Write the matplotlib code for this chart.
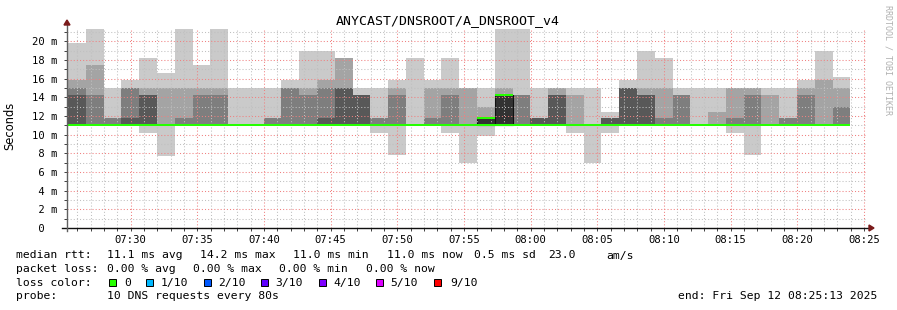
import matplotlib
matplotlib.use("Agg")
import matplotlib.pyplot as plt
import matplotlib.dates as mdates
from matplotlib.patches import Rectangle, Polygon
from datetime import datetime, timedelta
import numpy as np

# ---------------- data ----------------
title = "ANYCAST/DNSROOT/A_DNSROOT_v4"
axis_start = datetime(2025, 9, 12, 7, 25, 13)
axis_end = datetime(2025, 9, 12, 8, 25, 13)
first_step = datetime(2025, 9, 12, 7, 25, 18)
step_seconds = 80

# sorted ping round-trip times per 80 s step (ms), ping01 = fastest
ping01 = [11.0, 11.0, 11.0, 11.0, 10.2, 7.7, 11.0, 11.0, 11.0, 11.0,
          11.0, 11.0, 11.0, 11.0, 11.0, 11.0, 11.0, 10.2, 7.8, 11.0,
          11.0, 10.2, 7.0, 9.8, 11.0, 11.0, 11.0, 11.0, 10.2, 7.0,
          10.2, 11.0, 11.0, 11.0, 11.0, 11.0, 11.0, 10.2, 7.8, 11.0,
          11.0, 11.0, 11.0, 11.0]
ping02 = [11.0, 11.0, 11.0, 11.0, 11.0, 11.0, 11.0, 11.0, 11.0, 11.0,
          11.0, 11.0, 11.0, 11.0, 11.0, 11.0, 11.0, 11.0, 11.0, 11.0,
          11.0, 11.0, 11.0, 11.0, 11.0, 11.0, 11.0, 11.0, 11.0, 11.0,
          11.0, 11.0, 11.0, 11.0, 11.0, 11.0, 11.0, 11.0, 11.0, 11.0,
          11.0, 11.0, 11.0, 11.0]
ping03 = [11.0, 11.0, 11.0, 11.0, 11.0, 11.0, 11.0, 11.0, 11.0, 11.0,
          11.0, 11.0, 11.0, 11.0, 11.0, 11.0, 11.0, 11.0, 11.0, 11.0,
          11.0, 11.0, 11.0, 11.0, 11.0, 11.0, 11.0, 11.0, 11.0, 11.0,
          11.0, 11.0, 11.0, 11.0, 11.0, 11.0, 11.0, 11.0, 11.0, 11.0,
          11.0, 11.0, 11.0, 11.0]
ping04 = [11.0, 11.0, 11.0, 11.0, 11.0, 11.0, 11.0, 11.0, 11.0, 11.0,
          11.0, 11.0, 11.0, 11.0, 11.0, 11.0, 11.0, 11.0, 11.0, 11.0,
          11.0, 11.0, 11.0, 11.0, 11.0, 11.0, 11.0, 11.0, 11.0, 11.0,
          11.0, 11.0, 11.0, 11.0, 11.0, 11.0, 11.0, 11.0, 11.0, 11.0,
          11.0, 11.0, 11.0, 11.0]
ping05 = [11.0, 11.0, 11.0, 11.0, 11.0, 11.0, 11.0, 11.0, 11.0, 11.0,
          11.0, 11.0, 11.0, 11.0, 11.0, 11.0, 11.0, 11.0, 11.0, 11.0,
          11.0, 11.0, 11.0, 11.0, 11.0, 11.0, 11.0, 11.0, 11.0, 11.0,
          11.0, 11.0, 11.0, 11.0, 11.0, 11.0, 11.0, 11.0, 11.0, 11.0,
          11.0, 11.0, 11.0, 11.0]
ping06 = [11.0, 11.0, 11.0, 11.0, 11.0, 11.0, 11.0, 11.0, 11.0, 11.0,
          11.0, 11.0, 11.0, 11.0, 11.0, 11.0, 11.0, 11.0, 11.0, 11.0,
          11.0, 11.0, 11.0, 11.75, 14.25, 11.0, 11.0, 11.0, 11.0, 11.0,
          11.0, 11.0, 11.0, 11.0, 11.0, 11.0, 11.0, 11.0, 11.0, 11.0,
          11.0, 11.0, 11.0, 11.0]
ping07 = [14.25, 11.0, 11.0, 11.75, 14.25, 11.0, 11.0, 11.0, 11.0, 11.0,
          11.0, 11.0, 11.0, 11.0, 11.75, 15.0, 14.25, 11.0, 11.0, 11.0,
          11.0, 11.0, 11.0, 11.75, 14.25, 11.0, 11.75, 14.25, 11.0, 11.0,
          11.75, 15.0, 14.25, 11.0, 11.0, 11.0, 11.0, 11.0, 11.0, 11.0,
          11.0, 11.0, 11.0, 11.0]
ping08 = [15.0, 14.25, 11.75, 15.0, 14.25, 11.0, 11.75, 14.25, 14.25, 11.0,
          11.0, 11.75, 15.0, 14.25, 15.0, 15.0, 14.25, 11.75, 14.25, 11.0,
          11.75, 14.25, 11.0, 11.75, 14.25, 14.25, 11.75, 14.25, 11.0, 11.0,
          11.75, 15.0, 14.25, 11.75, 14.25, 11.0, 11.0, 11.75, 14.25, 11.0,
          11.75, 14.25, 11.0, 13.0]
ping09 = [15.8, 17.5, 11.75, 15.0, 15.0, 15.0, 15.0, 15.0, 15.0, 11.0,
          11.0, 11.75, 15.0, 15.0, 15.8, 18.25, 14.25, 11.75, 15.0, 11.0,
          15.0, 15.0, 15.0, 12.95, 15.0, 14.25, 11.75, 15.0, 14.25, 11.0,
          11.75, 15.0, 15.0, 15.0, 14.25, 11.0, 12.4, 15.0, 15.0, 14.25,
          11.75, 15.0, 15.8, 15.0]
ping10 = [19.85, 21.35, 15.0, 15.8, 18.25, 16.55, 21.35, 17.4, 21.35, 15.0,
          15.0, 15.0, 15.8, 19.0, 19.0, 18.25, 15.0, 15.0, 15.8, 18.25,
          15.8, 18.25, 15.0, 15.0, 21.35, 21.35, 15.0, 15.0, 15.0, 15.0,
          12.4, 15.8, 19.0, 18.25, 15.0, 15.0, 15.0, 15.0, 15.0, 15.0,
          15.0, 15.8, 19.0, 16.2]
median_ms = [11.0, 11.0, 11.0, 11.0, 11.0, 11.0, 11.0, 11.0, 11.0, 11.0,
             11.0, 11.0, 11.0, 11.0, 11.0, 11.0, 11.0, 11.0, 11.0, 11.0,
             11.0, 11.0, 11.0, 11.75, 14.25, 11.0, 11.0, 11.0, 11.0, 11.0,
             11.0, 11.0, 11.0, 11.0, 11.0, 11.0, 11.0, 11.0, 11.0, 11.0,
             11.0, 11.0, 11.0, 11.0]

ytick_values = [0, 2, 4, 6, 8, 10, 12, 14, 16, 18, 20]
ytick_labels = [" 0  ", " 2 m", " 4 m", " 6 m", " 8 m", "10 m", "12 m",
                "14 m", "16 m", "18 m", "20 m"]

loss_labels = ["0", "1/10", "2/10", "3/10", "4/10", "5/10", "9/10"]
loss_colors = ["#26ff00", "#00b8ff", "#0059ff", "#5e00ff", "#7e00ff",
               "#dd00ff", "#ff0000"]
smoke_colors = ["#cacaca", "#a4a4a4", "#7e7e7e", "#585858", "#323232"]

legend_rtt = ["median rtt:", "11.1 ms avg", "14.2 ms max", "11.0 ms min",
              "11.0 ms now", "0.5 ms sd", "23.0", "am/s"]
legend_loss = ["packet loss:", "0.00 % avg", "0.00 % max", "0.00 % min",
               "0.00 % now"]
probe_text = "10 DNS requests every 80s"
end_text = "end: Fri Sep 12 08:25:13 2025"
watermark = "RRDTOOL / TOBI OETIKER"

# ---------------- figure ----------------
W, H = 897, 310
fig = plt.figure(figsize=(W / 100, H / 100), dpi=100)
fig.patch.set_facecolor("white")
PL, PR, PB, PT = 67, 867, 228, 28
ax = fig.add_axes([PL / W, 1 - PB / H, (PR - PL) / W, (PB - PT) / H])
ax.set_facecolor("white")
ymax = 21.41
ax.set_ylim(0, ymax)
ax.set_xlim(mdates.date2num(axis_start), mdates.date2num(axis_end))

n = len(ping10)
edges = [mdates.date2num(first_step + timedelta(seconds=step_seconds * i))
         for i in range(n + 1)]
pings = [ping01, ping02, ping03, ping04, ping05,
         ping06, ping07, ping08, ping09, ping10]


def ext(a):
    return list(a) + [a[-1]]


for i in range(4):
    lo = pings[i]
    hi = pings[9 - i]
    ax.fill_between(edges, ext(lo), ext(hi), step="post",
                    facecolor=smoke_colors[i], edgecolor="none",
                    linewidth=0, zorder=1 + i * 0.01)
# innermost band (ping05..ping06) with dark outline where present
for k in range(n):
    h = ping06[k] - ping05[k]
    if h > 0:
        ax.bar(edges[k], h, bottom=ping05[k], width=edges[k + 1] - edges[k],
               align="edge", color=smoke_colors[4], edgecolor="#101010",
               linewidth=0.8, zorder=1.1)

# median bands (green = 0 loss)
sw = ymax / (PB - PT) * 1.1
med = np.array(median_ms)
ax.fill_between(edges, ext(med - sw), ext(med + sw), step="post",
                facecolor=loss_colors[0], edgecolor="none", zorder=3)
base = np.array(ping05)
ax.fill_between(edges, ext(base - sw), ext(base + sw), step="post",
                facecolor=loss_colors[0], edgecolor="none", zorder=3)

# grid
ax.set_yticks(ytick_values)
ax.set_yticklabels(ytick_labels)
ax.set_yticks(np.arange(1, 22, 2), minor=True)
ax.xaxis.set_major_locator(mdates.MinuteLocator(byminute=range(0, 60, 5)))
ax.xaxis.set_minor_locator(mdates.MinuteLocator())
ax.xaxis.set_major_formatter(mdates.DateFormatter("%H:%M"))
ax.set_axisbelow(False)
ax.grid(which="minor", color="#c0c0c0", linestyle=(0, (1, 2)), linewidth=0.75, zorder=2.5)
ax.grid(which="major", color="#f08080", linestyle=(0, (1, 2)), linewidth=0.75, zorder=2.5)

mono = "DejaVu Sans Mono"
ax.tick_params(axis="both", which="both", length=2, width=0.7, color="#404040",
               direction="out")
ax.tick_params(axis="y", which="major", pad=5, labelsize=7.6)
ax.tick_params(axis="x", which="major", pad=3, labelsize=7.6)
for lab in ax.get_xticklabels() + ax.get_yticklabels():
    lab.set_family(mono)

for s in ax.spines.values():
    s.set_visible(False)

# axes lines + arrows (figure pixel coords)
def fx(px):
    return px / W


def fy(py):
    return 1 - py / H


fig.add_artist(plt.Line2D([fx(62), fx(870)], [fy(228), fy(228)], color="#101010",
                          linewidth=1.0, zorder=5))
fig.add_artist(plt.Line2D([fx(67), fx(67)], [fy(231), fy(24)], color="#606060",
                          linewidth=1.0, zorder=5))
fig.add_artist(Polygon([[fx(869), fy(225)], [fx(874), fy(228)], [fx(869), fy(231)]],
                       closed=True, color="#7a1a1a", zorder=6))
fig.add_artist(Polygon([[fx(64), fy(25)], [fx(67), fy(20)], [fx(70), fy(25)]],
                       closed=True, color="#7a1a1a", zorder=6))

# texts
fig.text(fx(447.5), fy(24), title, family=mono, fontsize=9.5, ha="center",
         va="baseline", color="#000000")
fig.text(fx(10), fy(126), "Seconds", family="DejaVu Sans", fontsize=8.3,
         rotation=90, ha="center", va="center")
fig.text(fx(888), fy(5), watermark, family=mono, fontsize=6, rotation=270,
         ha="center", va="top", color="#b0b0b0")

fs = 8.2
rtt_x = [16, 107.3, 200, 293.3, 386.7, 474, 547.7, 606.7]
for s, x in zip(legend_rtt, rtt_x):
    fig.text(fx(x), fy(258.5), s, family=mono, fontsize=fs, va="baseline")
loss_x = [16, 107.3, 193.3, 279.3, 365.7]
for s, x in zip(legend_loss, loss_x):
    fig.text(fx(x), fy(272), s, family=mono, fontsize=fs, va="baseline")
fig.text(fx(16), fy(285.7), "loss color:", family=mono, fontsize=fs, va="baseline")
box_x = [109, 146.3, 203.7, 261.3, 318.7, 376.3, 434]
lab_x = [124, 160.7, 218.3, 275.7, 333.3, 390.7, 450]
for lab, col, bx, lx in zip(loss_labels, loss_colors, box_x, lab_x):
    fig.add_artist(Rectangle((fx(bx), fy(286)), 7 / W, 7 / H, facecolor=col,
                             edgecolor="#000000", linewidth=0.7, zorder=6))
    fig.text(fx(lx), fy(285.7), lab, family=mono, fontsize=fs, va="baseline")
fig.text(fx(16), fy(299.4), "probe:", family=mono, fontsize=fs, va="baseline")
fig.text(fx(107.3), fy(299.4), probe_text, family=mono, fontsize=fs, va="baseline")
fig.text(fx(677.7), fy(299.4), end_text, family=mono, fontsize=fs, va="baseline")

fig.savefig("out.png", dpi=100, facecolor="white")
